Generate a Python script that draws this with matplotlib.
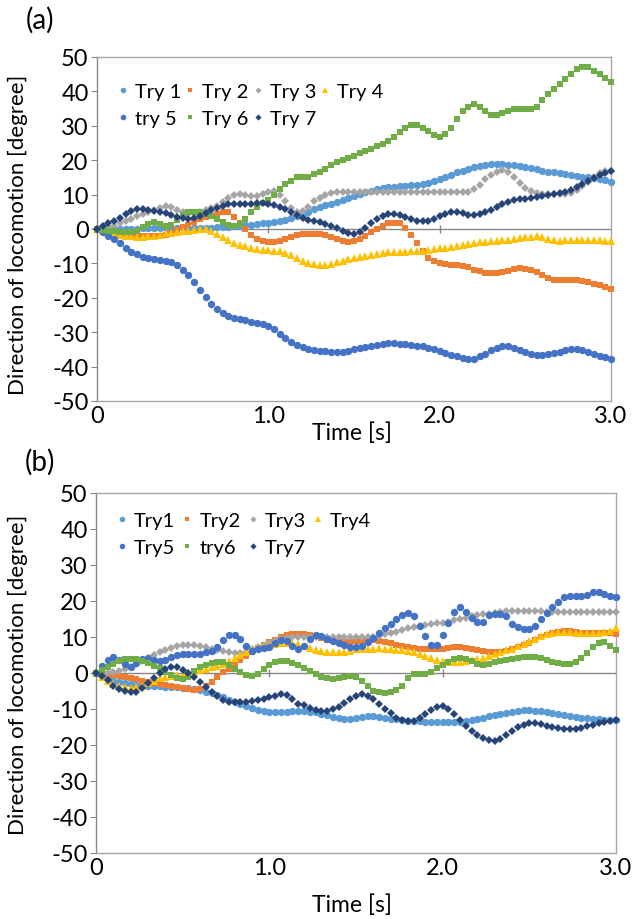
import numpy as np
import matplotlib
matplotlib.use("Agg")
import matplotlib.pyplot as plt

plt.rcParams['font.family'] = ['Lato', 'DejaVu Sans']

# time axis: video frames at 30 fps, 0 .. 3.0 s
t = np.arange(91) / 30.0

# ---- panel (a) ----
a_try1 = [0, 0, 0, 0, 0, 0, 0, 0.1, 0.2, 0.3, 0.3, 0.3, 0.3, 0.3, 0.3, 0.3, 0.3, 0.3,
          0.3, 0.4, 0.4, 0.5, 0.6, 0.7, 0.8, 0.9, 1.1, 1.2, 1.4, 1.6, 1.8, 2.0, 2.2,
          2.5, 3.1, 3.7, 4.3, 5.0, 5.7, 6.4, 6.9, 7.4, 7.9, 8.5, 9.1, 9.7, 10.2, 10.7,
          11.1, 11.5, 11.8, 12.1, 12.3, 12.5, 12.6, 12.7, 12.9, 13.0, 13.4, 13.9,
          14.4, 15.1, 15.8, 16.5, 17.0, 17.5, 18.0, 18.3, 18.6, 18.8, 18.8, 18.8,
          18.7, 18.5, 18.3, 18.1, 17.7, 17.3, 17.0, 16.7, 16.5, 16.3, 16.0, 15.8,
          15.5, 15.2, 15.0, 14.7, 14.4, 14.1, 13.8]
a_try2 = [0, -0.3, -0.7, -1.0, -1.3, -1.5, -1.7, -1.9, -2.0, -2.0, -2.0, -1.9,
          -1.6, -1.1, -0.3, 0.5, 1.3, 2.1, 2.9, 3.4, 3.9, 4.5, 5.0, 5.0, 3.5, 1.7, 0.0,
          -1.8, -2.9, -3.5, -3.7, -3.8, -3.6, -3.0, -2.3, -1.8, -1.5, -1.4, -1.4,
          -1.5, -1.8, -2.3, -2.8, -3.4, -3.8, -3.5, -2.9, -2.0, -1.0, 0.0, 0.8,
          1.6, 1.8, 1.6, 0.3, -1.6, -4.0, -6.5, -8.3, -9.4, -9.9, -10.2, -10.4,
          -10.5, -10.8, -11.1, -11.8, -12.3, -12.7, -12.8, -12.8, -12.6, -12.2,
          -11.7, -11.4, -11.5, -11.9, -12.6, -13.5, -14.2, -14.8, -14.9, -14.9,
          -14.9, -14.9, -15.0, -15.4, -15.9, -16.4, -16.9, -17.5]
a_try3 = [0, 0.3, 0.6, 1.0, 1.6, 2.3, 3.0, 3.7, 4.4, 5.0, 5.6, 6.2, 6.6, 6.4, 5.6,
          4.8, 4.5, 4.6, 5.0, 5.5, 6.1, 6.8, 7.8, 9.0, 10.0, 10.1, 9.8, 9.6, 9.6, 10.2,
          10.8, 11.0, 10.0, 8.0, 6.2, 5.0, 5.2, 6.4, 8.0, 9.0, 9.8, 10.4, 10.8, 10.8,
          10.8, 10.8, 10.8, 10.7, 10.7, 10.7, 10.7, 10.7, 10.7, 10.7, 10.7, 10.7,
          10.7, 10.7, 10.7, 10.7, 10.7, 10.8, 10.8, 10.8, 10.8, 10.9, 11.5, 12.9,
          14.6, 15.8, 16.6, 17.2, 16.5, 15.0, 13.3, 11.8, 11.0, 10.6, 10.3, 10.2,
          10.2, 10.2, 10.3, 10.5, 11.2, 12.5, 13.8, 15.2, 16.2, 16.8, 17.0]
a_try4 = [0, -0.5, -0.9, -1.3, -1.6, -1.9, -2.0, -2.2, -2.2, -2.1, -1.9, -1.6,
          -1.3, -1.1, -0.9, -0.7, -0.5, -0.3, -0.1, 0.0, -0.6, -1.5, -2.3, -3.2,
          -4.0, -4.6, -5.0, -5.4, -5.7, -6.0, -6.2, -6.3, -6.5, -6.9, -7.5, -8.5,
          -9.3, -9.9, -10.3, -10.5, -10.5, -10.2, -9.6, -9.2, -8.8, -8.4, -8.1, -7.8,
          -7.5, -7.2, -7.0, -6.8, -6.7, -6.7, -6.6, -6.5, -6.4, -6.3, -6.0, -5.8,
          -5.6, -5.4, -5.2, -5.0, -4.7, -4.4, -4.1, -3.9, -3.8, -3.6, -3.5, -3.3,
          -3.1, -2.9, -2.6, -2.4, -2.2, -2.0, -2.3, -2.8, -3.3, -3.4, -3.3, -3.2,
          -3.2, -3.2, -3.2, -3.2, -3.3, -3.4, -3.5]
a_try5 = [0, -1.0, -2.0, -3.0, -4.2, -5.4, -6.6, -7.3, -8.0, -8.5, -8.8, -9.0,
          -9.3, -9.7, -10.5, -11.8, -13.4, -15.5, -17.8, -19.9, -21.8, -23.2, -24.3,
          -25.2, -25.9, -26.2, -26.5, -26.9, -27.3, -27.7, -28.2, -29.0, -30.4,
          -31.8, -32.9, -33.7, -34.3, -34.8, -35.1, -35.4, -35.6, -35.7, -35.8,
          -35.7, -35.4, -35.0, -34.7, -34.3, -34.0, -33.6, -33.3, -33.2, -33.2,
          -33.3, -33.5, -33.8, -34.0, -34.1, -34.5, -35.0, -35.5, -36.0, -36.5,
          -37.0, -37.5, -37.9, -37.7, -37.0, -36.2, -35.3, -34.5, -33.9, -33.9,
          -34.5, -35.3, -35.8, -36.3, -36.6, -36.6, -36.4, -36.1, -35.8, -35.3,
          -34.8, -34.8, -35.2, -35.7, -36.2, -36.8, -37.3, -37.8]
a_try6 = [0, -0.3, -0.5, -0.5, -0.8, -1.0, -1.0, -0.5, 0.5, 1.5, 2.0, 1.5, 1.0, 1.2,
          2.5, 4.0, 4.8, 5.0, 5.0, 4.5, 3.8, 3.0, 2.0, 1.3, 1.0, 1.5, 3.0, 5.0, 6.5,
          7.5, 8.5, 10.0, 11.5, 13.0, 14.0, 15.0, 15.0, 15.2, 16.0, 16.5, 17.5, 18.5,
          19.5, 20.2, 20.7, 21.2, 22.0, 22.6, 23.2, 24.0, 24.8, 25.6, 26.8, 28.2,
          29.4, 30.2, 30.2, 29.5, 28.4, 27.2, 26.6, 27.5, 29.5, 32.0, 34.2, 35.6,
          36.3, 35.5, 34.2, 33.2, 33.2, 33.6, 34.3, 34.8, 35.0, 35.0, 35.0, 35.5,
          37.5, 39.2, 40.8, 42.2, 43.5, 45.0, 46.4, 47.2, 47.0, 46.0, 45.0, 43.8, 42.8]
a_try7 = [0, 0.8, 1.6, 2.3, 3.3, 4.4, 5.2, 5.7, 5.8, 5.6, 5.3, 5.0, 4.7, 4.2, 3.6,
          3.2, 2.9, 3.1, 3.8, 4.6, 5.4, 6.2, 6.8, 7.2, 7.3, 7.3, 7.3, 7.3, 7.5, 7.6,
          7.4, 7.0, 6.5, 5.8, 5.0, 4.0, 3.2, 2.5, 2.2, 2.0, 1.5, 1.0, 0.4, -0.5, -1.3,
          -1.5, -1.0, 0.2, 1.8, 2.9, 3.7, 4.3, 4.4, 4.1, 3.4, 2.9, 2.4, 2.2, 2.3, 2.9,
          3.8, 4.4, 4.8, 4.9, 4.6, 4.1, 4.0, 4.3, 5.0, 5.6, 6.5, 7.3, 7.9, 8.4, 8.7,
          8.8, 9.0, 9.2, 9.5, 9.8, 10.2, 10.5, 10.8, 11.4, 12.2, 13.0, 14.0, 14.8,
          15.6, 16.3, 17.0]

# ---- panel (b) ----
b_try1 = [0, -0.9, -1.6, -2.2, -2.6, -2.9, -3.1, -3.3, -3.4, -3.5, -3.6, -3.7,
          -3.8, -3.8, -3.9, -4.1, -4.3, -4.5, -4.8, -5.2, -5.6, -6.1, -6.7, -7.4,
          -8.0, -8.7, -9.3, -9.8, -10.3, -10.6, -10.7, -10.8, -10.8, -10.7, -10.6,
          -10.6, -10.6, -10.7, -10.8, -11.3, -11.8, -12.3, -12.6, -12.8, -12.8,
          -12.6, -12.3, -12.0, -12.0, -12.2, -12.5, -12.7, -12.9, -13.1, -13.2,
          -13.3, -13.4, -13.5, -13.5, -13.5, -13.5, -13.5, -13.5, -13.5, -13.3,
          -13.1, -12.8, -12.4, -12.0, -11.6, -11.3, -11.0, -10.8, -10.6, -10.4,
          -10.4, -10.5, -10.6, -10.8, -11.1, -11.4, -11.7, -12.0, -12.2, -12.4,
          -12.6, -12.8, -12.9, -13.0, -13.0, -13.0]
b_try2 = [0, -0.2, -0.4, -0.6, -0.8, -1.1, -1.4, -1.8, -2.1, -2.4, -2.7, -3.0,
          -3.2, -3.6, -4.0, -4.3, -4.5, -4.6, -4.4, -3.6, -2.4, -1.0, 0.2, 1.2, 2.3,
          3.5, 4.7, 5.9, 7.0, 7.9, 8.5, 9.3, 10.0, 10.5, 10.8, 10.8, 10.8, 10.5, 10.2,
          9.6, 9.2, 8.9, 8.7, 8.6, 8.7, 8.8, 8.9, 9.1, 9.1, 9.0, 8.7, 8.3, 7.9, 7.5,
          7.2, 6.9, 6.8, 6.7, 6.7, 6.7, 6.8, 6.9, 7.1, 7.2, 7.0, 6.7, 6.5, 6.1, 5.9,
          5.8, 5.8, 6.2, 6.8, 7.3, 7.8, 8.4, 9.2, 10.0, 10.6, 11.1, 11.5, 11.7, 11.6,
          11.4, 11.2, 11.1, 11.1, 11.1, 11.1, 11.0, 10.8]
b_try3 = [0, 0, 0.1, 0.3, 0.5, 1.0, 1.7, 2.5, 3.3, 4.1, 4.9, 5.7, 6.4, 6.9, 7.4,
          7.8, 7.8, 7.8, 7.6, 7.2, 6.8, 6.4, 6.0, 5.7, 5.5, 5.6, 5.9, 6.7, 7.2, 7.7,
          8.3, 8.9, 9.4, 9.7, 10.0, 10.0, 10.0, 10.0, 10.0, 10.0, 10.0, 10.0, 10.0,
          10.0, 10.0, 10.0, 10.0, 10.0, 10.1, 10.4, 10.7, 11.0, 11.5, 12.0, 12.5,
          12.8, 13.1, 13.3, 13.6, 13.8, 14.0, 14.3, 14.7, 15.0, 15.4, 15.7, 16.0,
          16.3, 16.5, 16.7, 16.9, 17.1, 17.2, 17.2, 17.2, 17.2, 17.1, 17.1, 17.0,
          17.0, 16.9, 16.9, 16.9, 16.9, 16.9, 16.9, 17.0, 17.0, 17.0, 17.0, 17.0]
b_try4 = [0, -1.2, -2.3, -3.0, -3.6, -3.9, -4.1, -4.0, -3.5, -2.8, -2.1, -1.5,
          -1.0, -0.7, -0.5, -0.3, 0.0, 0.3, 0.8, 1.2, 1.6, 1.9, 2.5, 3.3, 4.1, 4.9,
          5.7, 6.4, 7.0, 7.4, 7.8, 8.0, 8.2, 8.3, 8.3, 8.0, 7.5, 7.0, 6.5, 6.0, 5.8,
          5.8, 5.8, 5.9, 6.2, 6.6, 6.7, 6.8, 6.8, 6.9, 6.8, 6.7, 6.5, 6.3, 6.1, 5.8,
          5.3, 4.7, 4.1, 3.6, 3.3, 3.1, 3.0, 3.0, 3.2, 3.5, 3.8, 4.3, 4.8, 5.3, 5.8,
          6.3, 6.8, 7.4, 8.1, 8.8, 9.5, 10.2, 10.8, 11.2, 11.4, 11.4, 11.3, 11.2,
          11.1, 11.1, 11.1, 11.2, 11.4, 11.8, 12.5]
b_try5 = [0, 2.0, 3.7, 4.4, 3.5, 2.4, 1.6, 2.8, 4.0, 4.2, 3.5, 3.3, 3.6, 4.4, 5.0,
          5.2, 5.3, 5.3, 5.4, 5.7, 6.2, 7.2, 9.2, 10.6, 10.5, 9.4, 7.5, 6.2, 6.6, 7.0,
          7.3, 8.2, 9.2, 8.9, 7.6, 6.8, 7.5, 9.5, 10.6, 10.2, 9.5, 8.8, 8.3, 7.8,
          7.3, 7.2, 7.5, 8.6, 9.8, 11.2, 12.6, 13.6, 15.0, 16.0, 16.7, 15.8, 13.1,
          10.3, 7.8, 7.8, 10.6, 14.0, 17.0, 18.3, 16.9, 15.3, 14.2, 14.2, 16.0,
          16.4, 16.4, 15.7, 13.6, 12.8, 12.3, 12.2, 13.1, 15.0, 16.7, 18.3, 19.8,
          21.0, 21.4, 21.4, 21.5, 21.8, 22.4, 22.6, 22.0, 21.5, 21.1]
b_try6 = [0, 0.9, 1.8, 2.5, 3.3, 3.9, 3.9, 3.8, 3.4, 2.7, 2.0, 1.3, 0.4, -0.6,
          -1.4, -1.6, -1.0, 0.6, 1.8, 2.2, 2.7, 3.0, 3.0, 2.3, 1.2, 0.2, -0.5, -0.8,
          -0.3, 1.0, 2.3, 3.1, 3.4, 3.3, 2.9, 2.1, 1.4, 0.6, -0.2, -1.0, -1.5, -1.7,
          -1.5, -1.0, -0.7, -1.2, -2.2, -3.6, -4.9, -5.4, -5.6, -5.3, -4.7, -3.6,
          -1.3, -0.4, -0.3, -0.3, 0.4, 1.3, 2.2, 3.1, 4.0, 4.2, 3.8, 3.2, 2.5, 2.1,
          2.4, 3.1, 3.4, 3.6, 3.9, 4.2, 4.4, 4.4, 4.4, 4.1, 3.5, 3.0, 2.7, 2.5, 2.5,
          3.0, 4.2, 5.6, 7.1, 8.3, 8.6, 7.6, 6.4]
b_try7 = [0, -0.8, -2.0, -3.6, -4.5, -5.1, -5.3, -5.2, -4.2, -2.9, -1.4, -0.1,
          1.0, 1.6, 1.6, 0.9, 0.0, -1.0, -2.5, -3.9, -5.3, -6.5, -7.4, -8.0, -8.1,
          -8.1, -8.0, -7.9, -7.6, -7.2, -6.7, -6.3, -5.9, -6.0, -7.2, -8.6, -8.9,
          -9.7, -10.3, -10.6, -10.5, -9.9, -9.4, -8.3, -7.2, -6.4, -5.9, -6.4, -7.2,
          -8.5, -10.0, -11.2, -12.4, -13.1, -13.2, -13.3, -12.6, -11.3, -10.2, -9.4,
          -9.2, -10.0, -11.3, -13.0, -14.8, -16.2, -17.3, -18.1, -18.7, -18.8,
          -18.2, -17.2, -16.1, -15.1, -14.4, -14.0, -13.9, -14.2, -14.6, -15.0,
          -15.4, -15.6, -15.6, -15.5, -15.2, -14.8, -14.4, -14.0, -13.5, -13.2, -13.0]

labels_a = ['Try 1', 'Try 2', 'Try 3', 'Try 4', 'try 5', 'Try 6', 'Try 7']
labels_b = ['Try1', 'Try2', 'Try3', 'Try4', 'Try5', 'try6', 'Try7']
colors = ['#5B9BD5', '#ED7D31', '#A5A5A5', '#FFC000', '#4472C4', '#70AD47', '#264478']
markers = ['o', 's', 'D', '^', 'o', 's', 'D']
msizes = [5.3, 4.6, 4.2, 5.2, 5.3, 4.6, 4.2]

yticks = np.arange(-50, 51, 10)
xticks = [0, 1, 2, 3]
xticklabels = ['0', '1.0', '2.0', '3.0']


def draw_panel(ax, series, labels, leg_anchor, colsp):
    handles = []
    for y, lab, c, m, ms in zip(series, labels, colors, markers, msizes):
        h, = ax.plot(t, y, linestyle='none', marker=m, ms=ms, color=c,
                     markeredgewidth=0, label=lab, clip_on=False, zorder=3)
        handles.append(h)
    ax.axhline(0, color='#868686', lw=1.0, zorder=2)
    ax.plot(xticks[1:3], [0, 0], linestyle='none', marker='|', ms=6,
            color='#868686', mew=1.0, zorder=2)
    ax.set_xlim(0, 3)
    ax.set_ylim(-50, 50)
    ax.set_yticks(yticks)
    ax.set_yticklabels([str(v) for v in yticks])
    ax.set_xticks(xticks)
    ax.set_xticklabels(xticklabels)
    ax.tick_params(axis='y', direction='out', length=4, width=0.8,
                   color='#868686', labelsize=17, pad=2)
    ax.tick_params(axis='x', length=0, labelsize=17, pad=3)
    for s in ax.spines.values():
        s.set_color('#A6A6A6')
        s.set_linewidth(1.0)
    ax.spines['left'].set_color('#868686')
    order = [0, 4, 1, 5, 2, 6, 3]
    ax.legend([handles[i] for i in order], [labels[i] for i in order],
              ncol=4, loc='upper left', bbox_to_anchor=leg_anchor,
              frameon=False, fontsize=14.5, handlelength=0.5, handletextpad=0.35,
              columnspacing=colsp, borderaxespad=0, borderpad=0,
              labelspacing=0.5, markerscale=0.75)


fig = plt.figure(figsize=(6.33, 9.2), dpi=100)
ax1 = fig.add_axes([97 / 633, 1 - 402 / 920, 514 / 633, 344 / 920])
ax2 = fig.add_axes([96 / 633, 1 - 854 / 920, 520 / 633, 360 / 920])

draw_panel(ax1, [a_try1, a_try2, a_try3, a_try4, a_try5, a_try6, a_try7],
           labels_a, (0.04, 0.926), 0.2)
draw_panel(ax2, [b_try1, b_try2, b_try3, b_try4, b_try5, b_try6, b_try7],
           labels_b, (0.04, 0.948), 0.35)

fig.text(40 / 633, 1 - 20 / 920, '(a)', fontsize=20, ha='center', va='center')
fig.text(40 / 633, 1 - 462 / 920, '(b)', fontsize=20, ha='center', va='center')
for yc in (235, 675):
    fig.text(18 / 633, 1 - yc / 920, 'Direction of locomotion [degree]',
             fontsize=16, rotation=90, ha='center', va='center')
for yc in (433, 905):
    fig.text(352 / 633, 1 - yc / 920, 'Time [s]', fontsize=16.5,
             ha='center', va='center')

fig.savefig('out.png', dpi=100)
